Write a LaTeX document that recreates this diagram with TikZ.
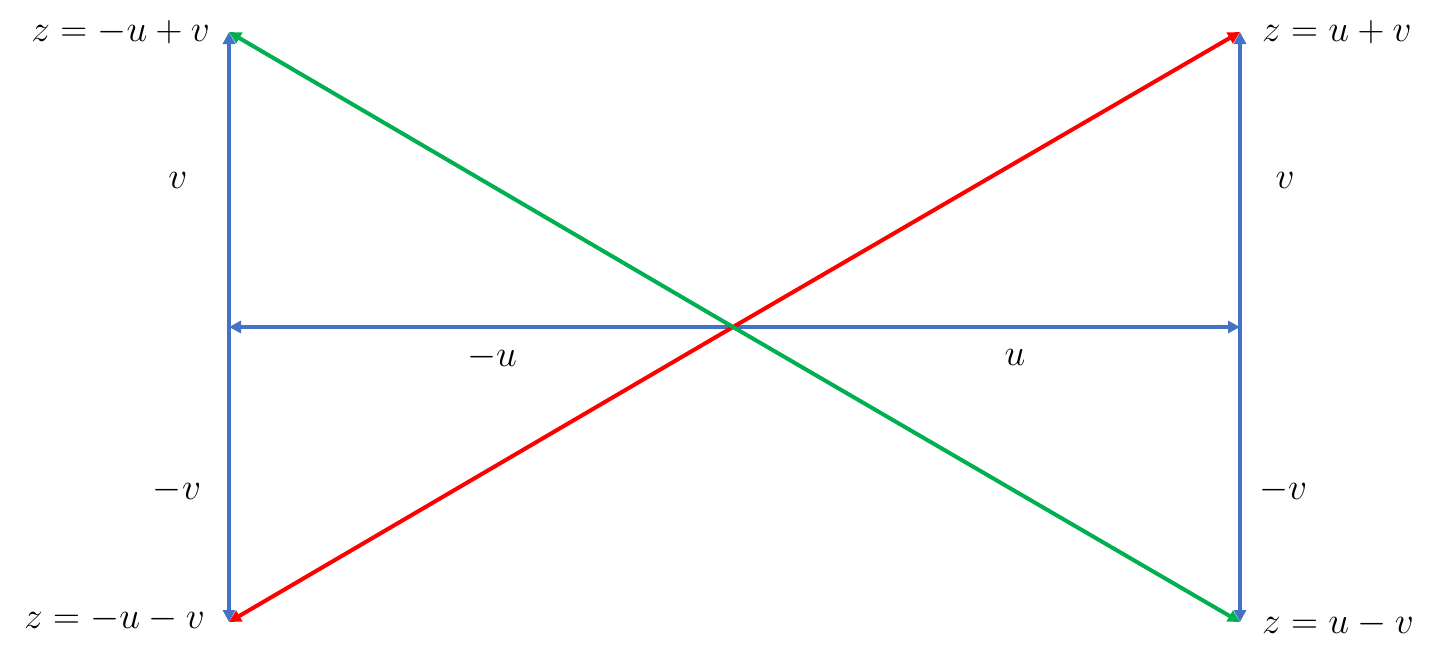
\documentclass[tikz,border=0pt]{standalone}
\usepackage{graphicx}
\usetikzlibrary{arrows.meta}
\definecolor{cblue}{HTML}{4472C4}
\definecolor{cred}{HTML}{FF0000}
\definecolor{cgreen}{HTML}{00B050}
\newcommand{\lbltxt}[1]{\scalebox{1.5}{\fontsize{24.88}{30}\selectfont$#1$}}
\begin{document}
\begin{tikzpicture}[x=1pt,y=-1pt,
  vec/.style={line width=4pt,-{Triangle[length=12pt,width=12pt]}},
  lab/.style={inner sep=0pt}]
\useasboundingbox (0,0) rectangle (1439,654);
\coordinate (O) at (733,327);
\coordinate (L) at (229,327);
\coordinate (R) at (1240,327);
\coordinate (TL) at (229,32);
\coordinate (BL) at (229,622);
\coordinate (TR) at (1240,32);
\coordinate (BR) at (1240,622);
\draw[vec,cblue] (L) -- (TL);
\draw[vec,cblue] (L) -- (BL);
\draw[vec,cblue] (R) -- (TR);
\draw[vec,cblue] (R) -- (BR);
\draw[vec,cblue] (O) -- (L);
\draw[vec,cblue] (O) -- (R);
\draw[vec,cred] (O) -- (TR);
\draw[vec,cred] (O) -- (BL);
\draw[vec,cgreen] (O) -- (TL);
\draw[vec,cgreen] (O) -- (BR);
\node[lab,anchor=east] (lTL) at (210,32) {\lbltxt{z=-u+v}};
\node[lab,anchor=west] (lTR) at (1262,32) {\lbltxt{z=u+v}};
\node[lab,anchor=east] (lBL) at (205,619) {\lbltxt{z=-u-v}};
\node[lab,anchor=west] (lBR) at (1262,624) {\lbltxt{z=u-v}};
\node[lab] (vL) at (178,180) {\lbltxt{v}};
\node[lab] (vR) at (1285,180) {\lbltxt{v}};
\node[lab] (mvL) at (177,490) {\lbltxt{-v}};
\node[lab] (mvR) at (1283,490) {\lbltxt{-v}};
\node[lab] (mu) at (492,357) {\lbltxt{-u}};
\node[lab] (u) at (1015,357) {\lbltxt{u}};
\end{tikzpicture}
\end{document}
